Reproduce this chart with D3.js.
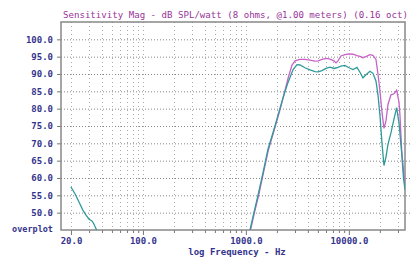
<!DOCTYPE html>
<html>
<head>
<meta charset="utf-8">
<script src="https://cdn.jsdelivr.net/npm/d3@7"></script>
<style>
  body { margin: 0; background: #fff; }
  svg { display: block; }
  text { font-family: "DejaVu Sans Mono", monospace; font-weight: bold; }
</style>
</head>
<body>
<div id="chart"></div>
<script>
const W = 415, H = 258;

// values
const yTicks = [50, 55, 60, 65, 70, 75, 80, 85, 90, 95, 100];
const xGrid = [20, 30, 40, 50, 60, 70, 80, 90, 100, 200, 300, 400, 500, 600, 700, 800, 900,
    1000, 2000, 3000, 4000, 5000, 6000, 7000, 8000, 9000, 10000, 20000, 30000];
const xLabels = [20, 100, 1000, 10000];

const tealFreq = [20, 22, 24, 26, 28, 30, 32, 33, 35.5, 40, 1000, 1096, 1197, 1310, 1465, 1638, 1874,
    2142, 2344, 2562, 2866, 3134, 3350, 3748, 4192, 4688, 5040, 5480, 5995, 6554, 7170, 7840, 8380,
    9160, 10020, 10960, 11990, 12820, 13700, 14650, 16030, 17150, 18330, 19180, 20060, 20980, 21930,
    22940, 23980, 25640, 27420, 29100, 30660, 32580, 33930, 35080];
const tealDb = [57.4, 55.3, 53.0, 50.8, 49.3, 48.1, 47.6, 47.0, 45.0, 41, 41, 45.0, 50.0, 55.0, 61.5, 68.3, 74.0,
    80.1, 84.0, 87.5, 91.2, 92.7, 92.6, 91.8, 91.2, 90.7, 90.6, 91.0, 91.6, 92.0, 91.6, 91.9, 92.3,
    92.5, 91.8, 91.3, 91.9, 90.5, 88.9, 89.8, 90.8, 90.2, 88.0, 84.0, 78.0, 70.0, 63.6,
    66.0, 69.7, 73.0, 77.0, 80.3, 76.0, 67.3, 60.0, 56.7];

const magFreq = [1000, 1110, 1210, 1330, 1480, 1650, 1890, 2160, 2360, 2580, 2800, 3000, 3350, 3750,
    4190, 4690, 5040, 5480, 6000, 6550, 7170, 7500, 7840, 8380, 9160, 10020, 10960, 11990, 12820,
    13700, 14650, 16030, 17150, 18330, 19180, 20060, 20980, 21930, 22940, 23980, 25640, 27420,
    29100, 30660, 31380, 32580, 33930, 35080];
const magDb = [41, 45, 50, 55, 61.5, 68, 74, 80, 84.5, 89, 92.5, 93.8, 94.2, 94.2,
    94.0, 93.7, 93.8, 94.2, 94.5, 94.3, 93.8, 93.2, 93.8, 95.2, 95.6, 95.8, 95.7, 95.3, 95.1,
    94.7, 95.0, 95.6, 95.4, 94.2, 90.0, 85.0, 79.0, 74.3, 76.5, 81.2, 84.0, 84.3,
    85.3, 82.0, 78.0, 68.0, 62.0, 58.0];

const titleText = "Sensitivity Mag - dB SPL/watt (8 ohms, @1.00 meters) (0.16 oct)";
const xTitle = "log Frequency - Hz";

const navy = "#34348c";
const plum = "#993399";
const magenta = "#c862c8";
const teal = "#2f9a9a";

const margin = {left: 61, right: 10, top: 22, bottom: 28};
const plotW = W - margin.left - margin.right;
const plotH = H - margin.top - margin.bottom;

const x = d3.scaleLog().domain([16, 35100]).range([0, plotW]);
const y = d3.scaleLinear().domain([45, 105]).range([plotH, 0]);

const svg = d3.select('#chart').append('svg')
    .attr('width', W)
    .attr('height', H);

svg.append('text')
    .attr('x', 63)
    .attr('y', 18)
    .attr('fill', plum)
    .style('font-size', '9.1px')
    .style('font-weight', 'normal')
    .text(titleText);

const g = svg.append('g').attr('transform', `translate(${margin.left},${margin.top})`);

// grid
g.append('g').selectAll('line')
    .data(yTicks)
    .join('line')
    .attr('x1', 0).attr('x2', plotW + 7)
    .attr('y1', d => y(d) + 0.5).attr('y2', d => y(d) + 0.5)
    .attr('stroke', '#888')
    .attr('stroke-width', 1)
    .attr('stroke-dasharray', '1,2');

g.append('g').selectAll('line')
    .data(xGrid)
    .join('line')
    .attr('x1', d => Math.round(x(d)) + 0.5).attr('x2', d => Math.round(x(d)) + 0.5)
    .attr('y1', 0).attr('y2', plotH)
    .attr('stroke', '#aaa')
    .attr('stroke-width', 1)
    .attr('stroke-dasharray', '1,3');

// axes
const yAxis = g.append('g')
    .call(d3.axisLeft(y).tickValues(yTicks).tickFormat(d3.format('.1f')).tickSize(4).tickPadding(4));
const xAxis = g.append('g')
    .attr('transform', `translate(0,${plotH})`)
    .call(d3.axisBottom(x).tickValues(xGrid)
        .tickFormat(d => xLabels.includes(d) ? d3.format('.1f')(d) : '')
        .tickSize(3).tickPadding(5));

[yAxis, xAxis].forEach(a => {
    a.select('.domain').remove();
    a.selectAll('line').attr('stroke', '#777');
    a.selectAll('text')
        .attr('fill', navy)
        .style('font-size', '9px');
});
xAxis.selectAll('.tick')
    .filter(d => xLabels.includes(d))
    .select('line').attr('y2', 5);

// frame
g.append('rect')
    .attr('x', 0).attr('y', 0)
    .attr('width', plotW).attr('height', plotH)
    .attr('fill', 'none')
    .attr('stroke', '#888')
    .attr('stroke-width', 1.5);

// curves
g.append('clipPath').attr('id', 'clip')
    .append('rect').attr('width', plotW).attr('height', plotH);

const line = d3.line()
    .x(d => x(d[0]))
    .y(d => y(d[1]));

const curves = g.append('g').attr('clip-path', 'url(#clip)');
curves.append('path')
    .datum(d3.zip(magFreq, magDb))
    .attr('d', line)
    .attr('fill', 'none')
    .attr('stroke', magenta)
    .attr('stroke-width', 1.3);
curves.append('path')
    .datum(d3.zip(tealFreq, tealDb))
    .attr('d', line)
    .attr('fill', 'none')
    .attr('stroke', teal)
    .attr('stroke-width', 1.3);

// texts
svg.append('text')
    .attr('x', 53).attr('y', 232)
    .attr('text-anchor', 'end')
    .attr('fill', navy)
    .style('font-size', '8.5px')
    .text('overplot');

svg.append('text')
    .attr('x', 237).attr('y', 255)
    .attr('text-anchor', 'middle')
    .attr('fill', navy)
    .style('font-size', '9px')
    .text(xTitle);
</script>
</body>
</html>
